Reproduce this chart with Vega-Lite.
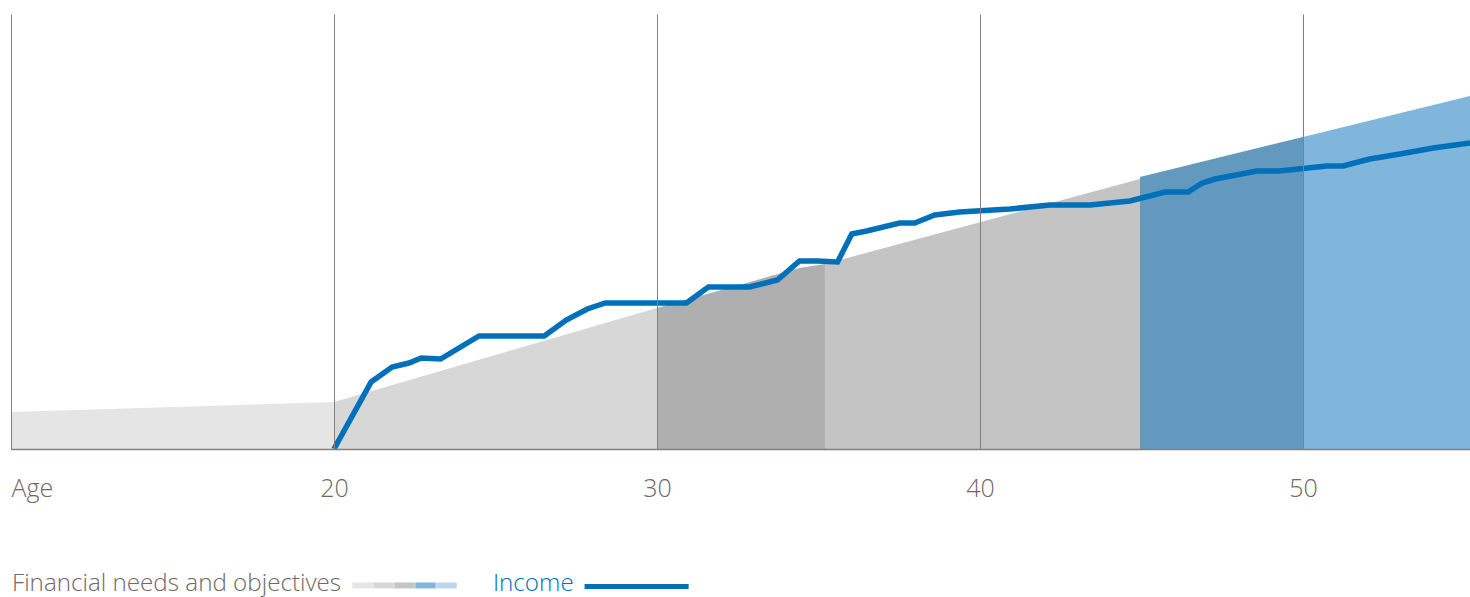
{
  "$schema": "https://vega.github.io/schema/vega-lite/v6.json",
  "width": 1459,
  "height": 435,
  "autosize": {"type": "none"},
  "padding": {"left": 11, "top": 14, "right": 0, "bottom": 148},
  "background": "#ffffff",
  "config": {"view": {"stroke": null}},
  "datasets": {
    "needs": [
      {"seg": "A", "age": 10.0, "v": 37},
      {"seg": "A", "age": 20.0, "v": 47},
      {"seg": "B", "age": 20.0, "v": 47},
      {"seg": "B", "age": 30.0, "v": 141},
      {"seg": "C", "age": 30.0, "v": 141},
      {"seg": "C", "age": 34.4, "v": 181},
      {"seg": "C", "age": 35.2, "v": 185},
      {"seg": "D", "age": 35.2, "v": 185},
      {"seg": "D", "age": 44.95, "v": 270},
      {"seg": "E", "age": 44.95, "v": 272},
      {"seg": "E", "age": 50.0, "v": 312},
      {"seg": "F", "age": 50.0, "v": 312},
      {"seg": "F", "age": 55.17, "v": 353}
    ],
    "income": [
      {"series": "Income", "age": 20.0, "v": 0},
      {"series": "Income", "age": 21.15, "v": 67},
      {"series": "Income", "age": 21.8, "v": 82},
      {"series": "Income", "age": 22.32, "v": 86},
      {"series": "Income", "age": 22.7, "v": 91},
      {"series": "Income", "age": 23.3, "v": 90},
      {"series": "Income", "age": 24.49, "v": 113},
      {"series": "Income", "age": 26.51, "v": 113},
      {"series": "Income", "age": 27.19, "v": 129},
      {"series": "Income", "age": 27.84, "v": 140},
      {"series": "Income", "age": 28.4, "v": 146},
      {"series": "Income", "age": 30.91, "v": 146},
      {"series": "Income", "age": 31.59, "v": 162},
      {"series": "Income", "age": 32.86, "v": 162},
      {"series": "Income", "age": 33.73, "v": 169},
      {"series": "Income", "age": 34.41, "v": 188},
      {"series": "Income", "age": 34.97, "v": 188},
      {"series": "Income", "age": 35.59, "v": 187},
      {"series": "Income", "age": 36.03, "v": 215},
      {"series": "Income", "age": 36.49, "v": 218},
      {"series": "Income", "age": 37.51, "v": 226},
      {"series": "Income", "age": 37.98, "v": 226},
      {"series": "Income", "age": 38.6, "v": 234},
      {"series": "Income", "age": 39.37, "v": 237},
      {"series": "Income", "age": 40.92, "v": 240},
      {"series": "Income", "age": 42.16, "v": 244},
      {"series": "Income", "age": 43.4, "v": 244},
      {"series": "Income", "age": 44.64, "v": 248},
      {"series": "Income", "age": 45.73, "v": 257},
      {"series": "Income", "age": 46.44, "v": 257},
      {"series": "Income", "age": 46.88, "v": 266},
      {"series": "Income", "age": 47.28, "v": 270},
      {"series": "Income", "age": 48.57, "v": 278},
      {"series": "Income", "age": 49.27, "v": 278},
      {"series": "Income", "age": 50.73, "v": 283},
      {"series": "Income", "age": 51.24, "v": 283},
      {"series": "Income", "age": 52.07, "v": 290},
      {"series": "Income", "age": 53.0, "v": 295},
      {"series": "Income", "age": 54.03, "v": 301},
      {"series": "Income", "age": 55.17, "v": 306}
    ]
  },
  "layer": [
    {
      "data": {"name": "needs"},
      "mark": {"type": "area", "interpolate": "linear"},
      "encoding": {
        "x": {
          "field": "age", "type": "quantitative",
          "scale": {"domain": [10, 55.17], "nice": false, "zero": false},
          "axis": {
            "values": [10, 20, 30, 40, 50],
            "labelExpr": "datum.value == 10 ? 'Age' : datum.label",
            "labelFlush": true,
            "ticks": false,
            "labelPadding": 27,
            "labelFont": "Open Sans",
            "labelFontSize": 25,
            "labelFontWeight": 300,
            "labelColor": "#6e6764",
            "grid": true,
            "gridColor": "#857f7c",
            "gridWidth": 1,
            "domainColor": "#857f7c",
            "domainWidth": 1.5,
            "title": null,
            "zindex": 1
          }
        },
        "y": {
          "field": "v", "type": "quantitative", "stack": null,
          "scale": {"domain": [0, 435], "nice": false},
          "axis": null
        },
        "fill": {
          "field": "seg", "type": "nominal",
          "scale": {
            "domain": ["A", "B", "C", "D", "E", "F", "G"],
            "range": ["#e5e5e5", "#d7d7d7", "#afafaf", "#c4c4c4", "#6399bf", "#80b5dc", "#bcd4ec"]
          },
          "legend": {
            "orient": "none",
            "legendX": 1,
            "legendY": 565.2,
            "direction": "horizontal",
            "columns": 5,
            "columnPadding": 0,
            "values": ["A", "B", "D", "F", "G"],
            "title": "Financial needs and objectives",
            "titleLimit": 800,
            "titleOrient": "left",
            "titleFont": "Open Sans",
            "titleFontSize": 24.2,
            "titleFontWeight": 300,
            "titleColor": "#6e6764",
            "titlePadding": 10,
            "symbolType": "M-1,-0.73H1V-0.15H-1Z",
            "symbolSize": 420,
            "symbolStrokeWidth": 0,
            "symbolOpacity": 1,
            "labelExpr": "''",
            "labelOffset": 0,
            "labelFontSize": 1
          }
        }
      }
    },
    {
      "data": {"name": "income"},
      "mark": {"type": "line", "strokeWidth": 5.5, "strokeJoin": "miter"},
      "encoding": {
        "x": {"field": "age", "type": "quantitative"},
        "y": {"field": "v", "type": "quantitative"},
        "stroke": {
          "field": "series", "type": "nominal",
          "scale": {"domain": ["Income"], "range": ["#0070ba"]},
          "legend": {
            "orient": "none",
            "legendX": 482,
            "legendY": 558.4,
            "title": "Income",
            "titleLimit": 300,
            "titleOrient": "left",
            "titleFont": "Open Sans",
            "titleFontSize": 24.2,
            "titleFontWeight": 300,
            "titleColor": "#0070ba",
            "titlePadding": 8,
            "symbolType": "M-1,0.1H9",
            "symbolSize": 433,
            "symbolStrokeWidth": 5,
            "labelExpr": "''",
            "labelOffset": 0,
            "labelFontSize": 1
          }
        }
      }
    }
  ]
}
